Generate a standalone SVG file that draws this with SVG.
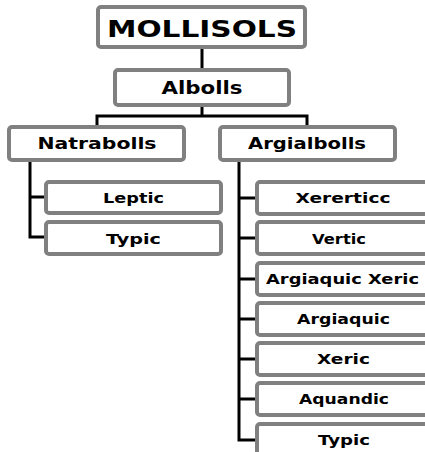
<svg xmlns="http://www.w3.org/2000/svg" width="425" height="452" viewBox="0 0 425 452">
<style>
.box{fill:#fff;stroke:#808080;stroke-width:4}
.t{font-family:"DejaVu Sans","Liberation Sans",sans-serif;font-weight:bold;fill:#000;text-anchor:middle}
.conn{stroke:#000;stroke-width:3;fill:none;stroke-linecap:square}
</style>
<rect width="425" height="452" fill="#fff"/>
<g id="connectors" class="conn">
<path d="M202 49V68M202 107V116M97 116H307M97 116V125M307 116V125"/>
<path d="M30 162V237H44M30 197H44"/>
<path d="M239 162V440H255M239 198H255M239 238H255M239 279H255M239 319H255M239 359H255M239 399H255"/>
</g>
<g id="mollisols"><rect class="box" x="98" y="7" width="207" height="40" rx="3"/><text class="t" x="202" y="37" font-size="23" textLength="190" lengthAdjust="spacingAndGlyphs">MOLLISOLS</text></g>
<g id="albolls"><rect class="box" x="115" y="70" width="174" height="35" rx="3"/><text class="t" x="202" y="94" font-size="17" textLength="81" lengthAdjust="spacingAndGlyphs">Albolls</text></g>
<g id="natrabolls"><rect class="box" x="9" y="127" width="175" height="33" rx="3"/><text class="t" x="97" y="149" font-size="16" textLength="119" lengthAdjust="spacingAndGlyphs">Natrabolls</text></g>
<g id="argialbolls"><rect class="box" x="220" y="127" width="175" height="33" rx="3"/><text class="t" x="307" y="149" font-size="16" textLength="118" lengthAdjust="spacingAndGlyphs">Argialbolls</text></g>
<g id="leptic"><rect class="box" x="46" y="182" width="175" height="31" rx="3"/><text class="t" x="133.5" y="203" font-size="14" textLength="61" lengthAdjust="spacingAndGlyphs">Leptic</text></g>
<g id="typic-natra"><rect class="box" x="46" y="222" width="175" height="32" rx="3"/><text class="t" x="133.5" y="244" font-size="14" textLength="55" lengthAdjust="spacingAndGlyphs">Typic</text></g>
<g id="xerertic"><rect class="box" x="257" y="182" width="172" height="32" rx="3"/><text class="t" x="343" y="203" font-size="14" textLength="95" lengthAdjust="spacingAndGlyphs">Xererticc</text></g>
<g id="vertic"><rect class="box" x="257" y="222" width="172" height="32" rx="3"/><text class="t" x="339" y="244" font-size="14" textLength="54" lengthAdjust="spacingAndGlyphs">Vertic</text></g>
<g id="argiaquic-xeric"><rect class="box" x="257" y="263" width="172" height="32" rx="3"/><text class="t" x="342.5" y="284" font-size="14" textLength="153" lengthAdjust="spacingAndGlyphs">Argiaquic Xeric</text></g>
<g id="argiaquic"><rect class="box" x="257" y="303" width="172" height="32" rx="3"/><text class="t" x="343.5" y="324" font-size="14" textLength="93" lengthAdjust="spacingAndGlyphs">Argiaquic</text></g>
<g id="xeric"><rect class="box" x="257" y="343" width="172" height="32" rx="3"/><text class="t" x="343.5" y="364" font-size="14" textLength="53" lengthAdjust="spacingAndGlyphs">Xeric</text></g>
<g id="aquandic"><rect class="box" x="257" y="383" width="172" height="32" rx="3"/><text class="t" x="344" y="404" font-size="14" textLength="90" lengthAdjust="spacingAndGlyphs">Aquandic</text></g>
<g id="typic-argi"><rect class="box" x="257" y="424" width="172" height="32" rx="3"/><text class="t" x="344" y="445" font-size="14" textLength="52" lengthAdjust="spacingAndGlyphs">Typic</text></g>
</svg>
